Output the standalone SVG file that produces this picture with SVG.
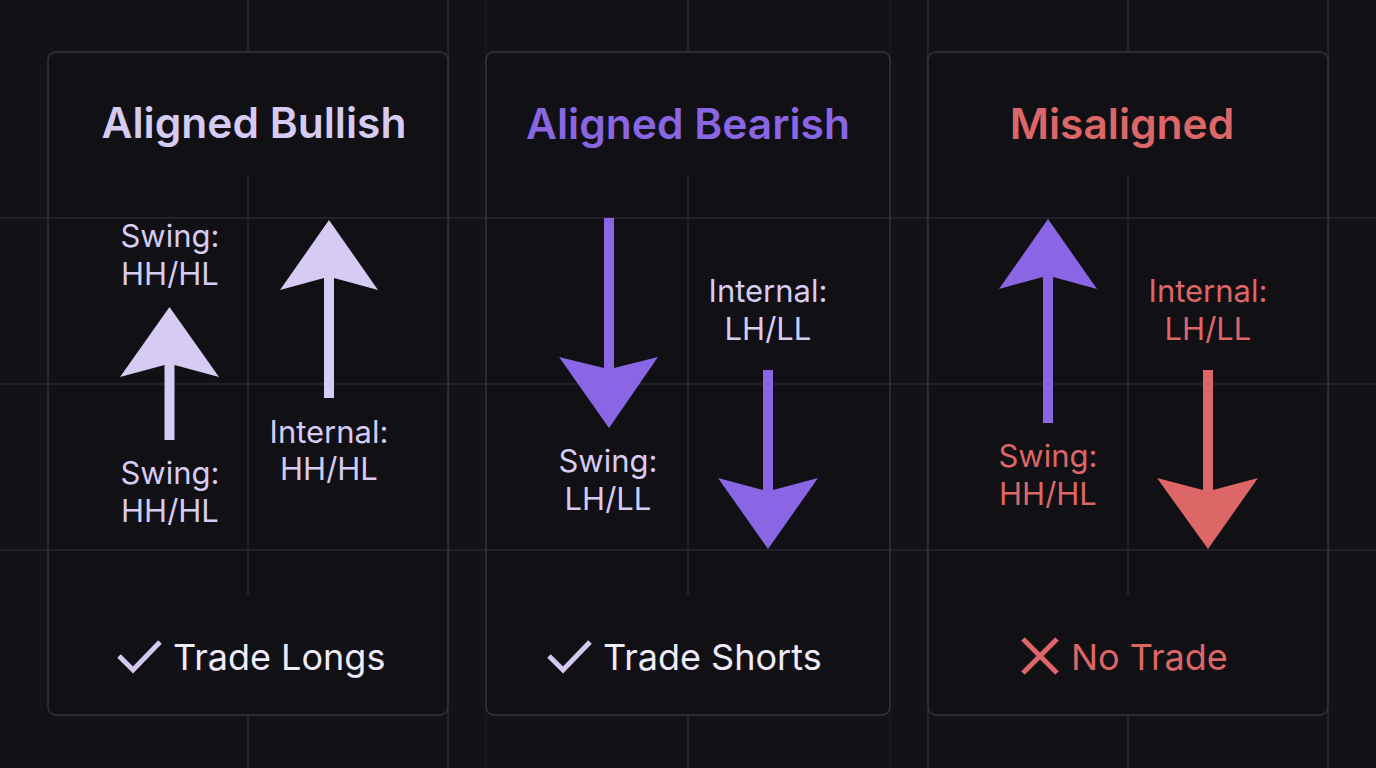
<svg xmlns="http://www.w3.org/2000/svg" width="1376" height="768" viewBox="0 0 1376 768">
  <style>
    .grid { stroke: #2a2833; stroke-width: 1.5; fill: none; }
    .gridf { stroke: #201f28; stroke-width: 1; fill: none; }
    .card { fill: #111015; stroke: #35333f; stroke-width: 1.5; }
    .title { font-family: Inter, "Noto Sans", "Liberation Sans", sans-serif; font-size: 42.5px; font-weight: 600; text-anchor: middle; }
    .lbl { font-family: Inter, "Noto Sans", "Liberation Sans", sans-serif; font-size: 31px; font-weight: 400; text-anchor: middle; }
    .foot { font-family: Inter, "Noto Sans", "Liberation Sans", sans-serif; font-size: 36px; font-weight: 400; fill: #efebf8; }
    .lav { fill: #d6cbf2; }
    .pur { fill: #8a66e4; }
    .red { fill: #dd6666; }
    .tick { fill: none; stroke: #d4c8f0; stroke-width: 5; stroke-linecap: butt; stroke-linejoin: miter; }
    .cross { fill: none; stroke: #dd6666; stroke-width: 5; }
  </style>
  <rect x="0" y="0" width="1376" height="768" fill="#131218"/>
  <g id="grid">
    <line class="grid" x1="248" y1="0" x2="248" y2="768"/>
    <line class="grid" x1="448" y1="0" x2="448" y2="768"/>
    <line class="grid" x1="688" y1="0" x2="688" y2="768"/>
    <line class="grid" x1="928" y1="0" x2="928" y2="768"/>
    <line class="grid" x1="1128" y1="0" x2="1128" y2="768"/>
    <line class="grid" x1="1328" y1="0" x2="1328" y2="768"/>
    <line class="gridf" x1="486" y1="0" x2="486" y2="768"/>
    <line class="gridf" x1="890" y1="0" x2="890" y2="768"/>
    <line class="grid" x1="0" y1="218" x2="1376" y2="218"/>
    <line class="grid" x1="0" y1="384" x2="1376" y2="384"/>
    <line class="grid" x1="0" y1="550" x2="1376" y2="550"/>
  </g>

  <g id="card-bullish">
    <rect class="card" x="48" y="52" width="400" height="663" rx="8"/>
    <line class="grid" x1="248" y1="175" x2="248" y2="595"/>
    <line class="grid" x1="48" y1="218" x2="448" y2="218"/>
    <line class="grid" x1="48" y1="384" x2="448" y2="384"/>
    <line class="grid" x1="48" y1="550" x2="448" y2="550"/>
    <text class="title" x="254" y="138" fill="#d6cbf2">Aligned Bullish</text>
    <text class="lbl lav" x="170" y="247">Swing:</text>
    <text class="lbl lav" x="170" y="285">HH/HL</text>
    <path class="lav" d="M169.5,307 L219,377 L174.5,365 L174.5,440 L164.5,440 L164.5,365 L120,377 Z"/>
    <text class="lbl lav" x="170" y="484">Swing:</text>
    <text class="lbl lav" x="170" y="522">HH/HL</text>
    <path class="lav" d="M329,220 L378,290 L334,278 L334,398 L324,398 L324,278 L280,290 Z"/>
    <text class="lbl lav" x="329" y="443">Internal:</text>
    <text class="lbl lav" x="329" y="480">HH/HL</text>
    <path class="tick" d="M119,656 L133,670 L160,642"/>
    <text class="foot" x="173" y="670">Trade Longs</text>
  </g>

  <g id="card-bearish">
    <rect class="card" x="486" y="52" width="404" height="663" rx="8"/>
    <line class="grid" x1="688" y1="175" x2="688" y2="595"/>
    <line class="grid" x1="486" y1="218" x2="890" y2="218"/>
    <line class="grid" x1="486" y1="384" x2="890" y2="384"/>
    <line class="grid" x1="486" y1="550" x2="890" y2="550"/>
    <text class="title" x="688" y="139" fill="#8a66e4">Aligned Bearish</text>
    <path class="pur" d="M609,428 L658,357 L614,368 L614,218 L604,218 L604,368 L559,357 Z"/>
    <text class="lbl lav" x="608" y="472">Swing:</text>
    <text class="lbl lav" x="608" y="510">LH/LL</text>
    <text class="lbl lav" x="768" y="302">Internal:</text>
    <text class="lbl lav" x="768" y="340">LH/LL</text>
    <path class="pur" d="M768,549 L818,478 L773,490 L773,370 L763,370 L763,490 L718,478 Z"/>
    <path class="tick" d="M549,656 L563,670 L590,642"/>
    <text class="foot" x="603" y="670">Trade Shorts</text>
  </g>

  <g id="card-misaligned">
    <rect class="card" x="928" y="52" width="400" height="663" rx="8"/>
    <line class="grid" x1="1128" y1="175" x2="1128" y2="595"/>
    <line class="grid" x1="928" y1="218" x2="1328" y2="218"/>
    <line class="grid" x1="928" y1="384" x2="1328" y2="384"/>
    <line class="grid" x1="928" y1="550" x2="1328" y2="550"/>
    <text class="title" x="1122" y="139" fill="#dd6666">Misaligned</text>
    <path class="pur" d="M1048,219 L1097,289 L1053,277 L1053,423 L1043,423 L1043,277 L999,289 Z"/>
    <text class="lbl red" x="1048" y="467">Swing:</text>
    <text class="lbl red" x="1048" y="505">HH/HL</text>
    <text class="lbl red" x="1208" y="302">Internal:</text>
    <text class="lbl red" x="1208" y="340">LH/LL</text>
    <path class="red" d="M1208,549 L1258,478 L1213,490 L1213,370 L1203,370 L1203,490 L1157,478 Z"/>
    <path class="cross" d="M1023,639 L1057,673 M1057,639 L1023,673"/>
    <text class="foot" x="1071" y="670" style="fill:#dd6666">No Trade</text>
  </g>
</svg>
